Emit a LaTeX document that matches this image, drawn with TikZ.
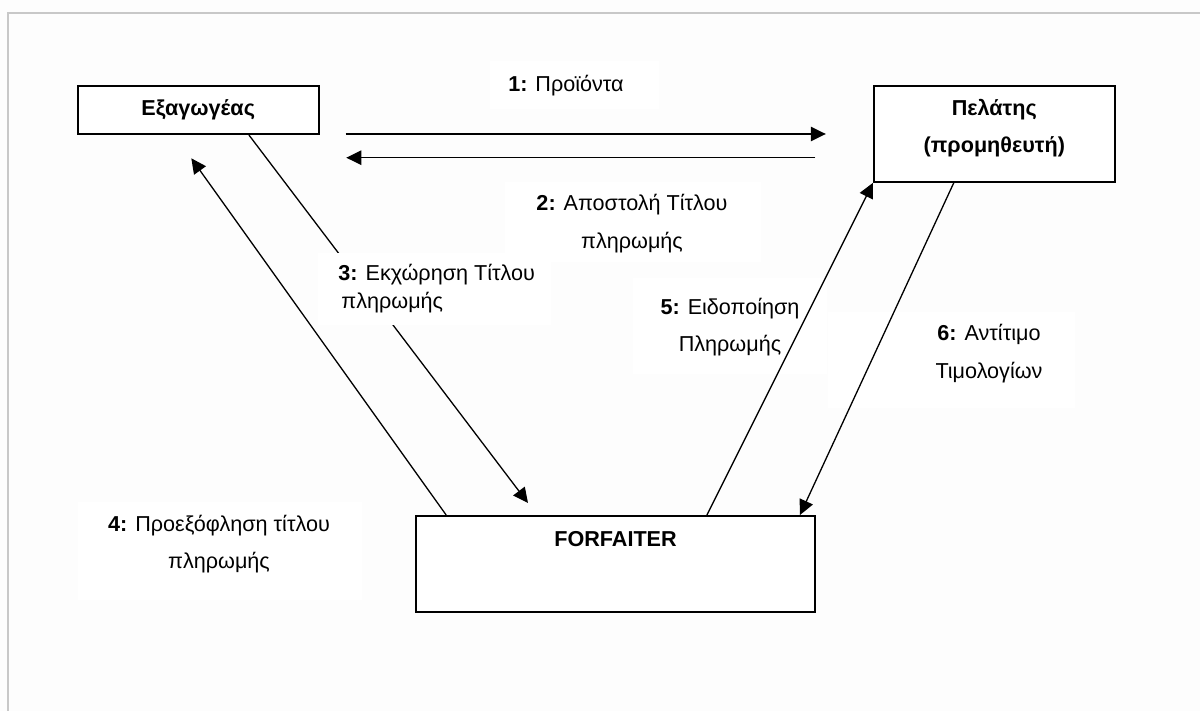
\documentclass[tikz,border=0pt]{standalone}
\usepackage{fontspec}
\setmainfont{Liberation Sans}
\usetikzlibrary{arrows.meta,calc}
\definecolor{bgc}{RGB}{253,253,253}
\definecolor{framec}{RGB}{200,200,200}
\tikzset{
  entity/.style={draw=black, line width=1pt, fill=white, inner sep=0pt},
  etext/.style={font=\fontsize{10.8pt}{18.5pt}\selectfont\bfseries, align=center, inner sep=0pt},
  lblbg/.style={fill=white, draw=none, inner sep=0pt},
  ltext/.style={font=\fontsize{10.8pt}{18.8pt}\selectfont, align=center, inner sep=0pt},
  flow/.style={line width=0.65pt, -{Triangle[length=7.5pt,width=7.2pt]}},
  plain/.style={line width=0.65pt}
}
\begin{document}
\begin{tikzpicture}[x=0.5pt,y=-0.5pt]
\path[fill=bgc] (0,0) rectangle (1200,711);
\useasboundingbox (0,0) rectangle (1200,711);
\draw[framec, line width=1pt] (8.4,711) -- (8.4,12.7) -- (1200,12.7);

% entity boxes
\node[entity, minimum width=120.5pt, minimum height=24.2pt] (exp) at (198.2,109.9) {};
\node[etext] (expt) at (198.2,110) {Εξαγωγέας};
\node[entity, minimum width=120.3pt, minimum height=47.9pt] (cli) at (994.3,133.9) {};
\node[etext] (clit) at (994.3,128.5) {Πελάτης\\(προμηθευτή)};
\node[entity, minimum width=199.5pt, minimum height=48.2pt] (forf) at (615.5,564.2) {};
\node[etext] (forft) at (615.5,539) {FORFAITER};

% labels under the connectors
\node[lblbg, minimum width=96.8pt, minimum height=48pt] (l5bg) at (729.9,326.5) {};
\node[ltext] (l5) at (730,327.3) {\textbf{5:} Ειδοποίηση\\Πληρωμής};
\node[lblbg, minimum width=123.4pt, minimum height=48pt] (l6bg) at (951.1,360) {};
\node[ltext] (l6) at (989,353.5) {\textbf{6:} Αντίτιμο\\Τιμολογίων};

% free ends
\coordinate (a1s) at (345.6,134);
\coordinate (a1e) at (825.8,134);
\coordinate (a2s) at (815.4,157.7);
\coordinate (a2e) at (346.3,157.7);
\coordinate (a3e) at (528,503);
\coordinate (a4e) at (191.3,158.3);

% connectors
\draw[flow] (a1s) -- (a1e);
\draw[flow] (a2s) -- (a2e);
\draw[flow] ($(exp.south west)!0.709!(exp.south east)$) -- (a3e);
\draw[flow] ($(forf.north west)!0.0777!(forf.north east)$) -- (a4e);
\draw[flow] ($(forf.north west)!0.728!(forf.north east)$) -- (cli.south west);
\draw[flow] ($(cli.south west)!0.333!(cli.south east)$) -- ($(forf.north west)!0.96!(forf.north east)$);

% labels over the connectors
\node[lblbg, minimum width=84.3pt, minimum height=24pt] (l1bg) at (574.2,85) {};
\node[ltext] (l1) at (566,86) {\textbf{1:} Προϊόντα};
\node[lblbg, minimum width=127.9pt, minimum height=40pt] (l2bg) at (632.9,222) {};
\node[ltext] (l2) at (632,223.5) {\textbf{2:} Αποστολή Τίτλου\\πληρωμής};
\node[lblbg, minimum width=116.5pt, minimum height=36pt] (l3bg) at (434.5,289) {};
\node[ltext, align=left, font=\fontsize{10.8pt}{14pt}\selectfont, anchor=west] (l3) at (338,289) {\textbf{3:} Εκχώρηση Τίτλου\\\hspace{1.5pt}πληρωμής};
\node[lblbg, minimum width=141.6pt, minimum height=49.2pt] (l4bg) at (220,550.8) {};
\node[ltext] (l4) at (219,544) {\textbf{4:} Προεξόφληση τίτλου\\πληρωμής};
\end{tikzpicture}
\end{document}
